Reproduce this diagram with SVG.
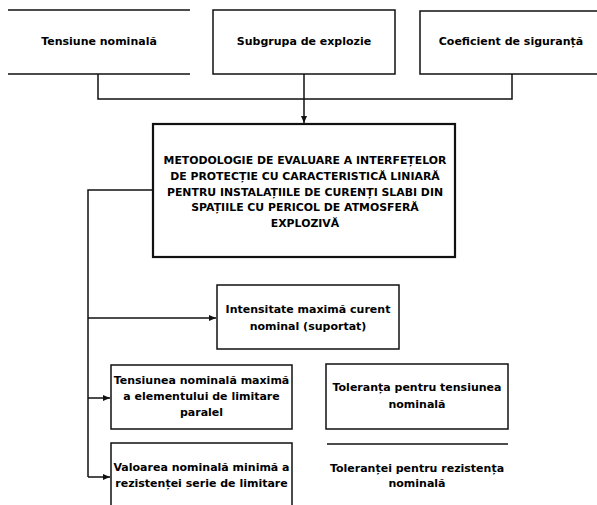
<svg xmlns="http://www.w3.org/2000/svg" width="597" height="505" viewBox="0 0 597 505">
<style>
.bx{fill:#fff;stroke:#111;stroke-width:1.5}
.mb{fill:#fff;stroke:#111;stroke-width:2.2}
.ln{fill:none;stroke:#111;stroke-width:1.5}
.t{font-family:"DejaVu Sans",sans-serif;font-weight:bold;font-size:11px;fill:#000;text-anchor:middle}
.tc{font-family:"DejaVu Sans",sans-serif;font-weight:bold;font-size:10.9px;fill:#000;text-anchor:middle}
</style>
<defs>
<marker id="ah" markerWidth="8" markerHeight="8" refX="7" refY="4" orient="auto" markerUnits="userSpaceOnUse">
<path d="M0,1 L7,4 L0,7 Z" fill="#111"/>
</marker>
</defs>
<rect width="597" height="505" fill="#fff"/>
<g id="connectors">
<path class="ln" d="M98,74 V99 H512 V74"/>
<path class="ln" d="M304,74 V123" marker-end="url(#ah)"/>
<path class="ln" d="M153,190 H88 V477"/>
<path class="ln" d="M88,318 H216" marker-end="url(#ah)"/>
<path class="ln" d="M88,398 H110" marker-end="url(#ah)"/>
<path class="ln" d="M88,477 H110" marker-end="url(#ah)"/>
</g>
<g id="n-tensiune">
<path class="ln" d="M8,10 H190 M8,74 H190"/>
<text class="t" x="99" y="45">Tensiune nominală</text>
</g>
<g id="n-subgrupa">
<rect class="bx" x="213" y="10" width="182" height="64"/>
<text class="t" x="304" y="45">Subgrupa de explozie</text>
</g>
<g id="n-coeficient">
<path class="ln" d="M598,11 H420 V74 H598"/>
<text class="t" x="511" y="45">Coeficient de siguranță</text>
</g>
<g id="n-metodologie">
<rect class="mb" x="153" y="124" width="302" height="133"/>
<text class="tc" x="305" y="164">METODOLOGIE DE EVALUARE A INTERFEȚELOR</text>
<text class="tc" x="305" y="180">DE PROTECȚIE CU CARACTERISTICĂ LINIARĂ</text>
<text class="tc" x="305" y="195.5">PENTRU INSTALAȚIILE DE CURENȚI SLABI DIN</text>
<text class="tc" x="305" y="211">SPAȚIILE CU PERICOL DE ATMOSFERĂ</text>
<text class="tc" x="305" y="226.5">EXPLOZIVĂ</text>
</g>
<g id="n-intensitate">
<rect class="bx" x="217" y="285" width="182" height="64"/>
<text class="t" x="308" y="313">Intensitate maximă curent</text>
<text class="t" x="308" y="330">nominal (suportat)</text>
</g>
<g id="n-tensiunea">
<rect class="bx" x="111" y="365" width="181" height="64"/>
<text class="t" x="201.5" y="384">Tensiunea nominală maximă</text>
<text class="t" x="201.5" y="400">a elementului de limitare</text>
<text class="t" x="201.5" y="416">paralel</text>
</g>
<g id="n-valoarea">
<path class="bx" d="M111,510 V443 H292 V510"/>
<text class="t" x="201.5" y="471">Valoarea nominală minimă a</text>
<text class="t" x="201.5" y="487">rezistenței serie de limitare</text>
</g>
<g id="n-toleranta">
<rect class="bx" x="326" y="364" width="182" height="65"/>
<text class="t" x="417" y="391">Toleranța pentru tensiunea</text>
<text class="t" x="417" y="408">nominală</text>
</g>
<g id="n-toleranta2">
<path class="ln" d="M327,444 H508"/>
<text class="t" x="417" y="472">Toleranței pentru rezistența</text>
<text class="t" x="417" y="487">nominală</text>
</g>
</svg>
